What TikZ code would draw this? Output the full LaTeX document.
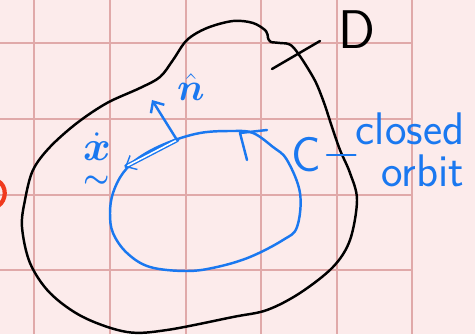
\documentclass[tikz,border=0pt]{standalone}
\usepackage{fix-cm}
\usepackage{amsmath}
\usetikzlibrary{arrows.meta}
\definecolor{paper}{HTML}{FCEBEB}
\definecolor{gridred}{HTML}{E0A9A9}
\definecolor{penblue}{HTML}{1A78F0}
\definecolor{penred}{HTML}{F03A1E}
\tikzset{
  gridline/.style={gridred, line width=1pt},
  pen/.style={black, line width=1.4pt, line cap=round, line join=round},
  bluepen/.style={penblue, line width=1.4pt, line cap=round, line join=round},
  barb/.style={-{Straight Barb[length=5pt,width=9pt]}},
}
\begin{document}
\begin{tikzpicture}[x=0.02cm, y=-0.02cm]
  \useasboundingbox (0,0) rectangle (475,334);
  % grid paper
  \fill[paper] (0,0) rectangle (475,334);
  \foreach \gx in {34,110,186,261,337}
    \draw[gridline] (\gx,0) -- (\gx,334);
  \draw[gridline, line width=1.4pt] (412,0) -- (412,334);
  \foreach \gy in {43,119,195,270}
    \draw[gridline] (0,\gy) -- (412,\gy);
  % left-over red stroke at the edge
  \draw[penred, line width=2.4pt, line cap=round] (-2,181) .. controls (7,186) and (7,200) .. (-2,206);
  % region D
  \draw[pen] plot[smooth cycle, tension=0.55] coordinates {
    (271,42) (280,43) (293,47) (313,77) (323,100) (332,127) (340,150)
    (350,173) (357,200) (350,240) (333,267) (300,293) (267,310) (233,317)
    (167,330) (127,332) (83,317) (50,293) (30,263) (22,227) (25,200)
    (33,170) (50,147) (77,123) (107,103) (140,88) (160,77) (173,60)
    (187,40) (207,28) (233,21) (253,23) (266,31) (268,38)};
  \coordinate (tickA) at (272,69);
  \coordinate (tickB) at (320,41);
  \draw[pen] (tickA) -- (tickB);
  \node[font=\fontsize{31}{33}\selectfont\sffamily] (dlabel) at (357,30) {D};
  % closed orbit C
  \draw[bluepen] plot[smooth cycle, tension=0.6] coordinates {
    (233,131) (253,133) (273,147) (287,160) (300,193) (297,227) (283,240)
    (250,257) (217,267) (187,271) (150,267) (127,253) (113,233) (110,213)
    (113,193) (123,173) (140,157) (167,143) (200,133)};
  \coordinate (flow) at (240,133);
  \draw[bluepen] (267,130) -- (flow) -- (247,160);
  % tangent and normal at a point of C
  \coordinate (xpt) at (177,140);
  \coordinate (xtip) at (125,167);
  \coordinate (ntip) at (152,100);
  \draw[bluepen, barb, double, double distance=0.9pt, line width=0.8pt] (xpt) -- (xtip);
  \draw[bluepen, barb] (xpt) -- (ntip);
  \node[penblue, font=\fontsize{24}{26}\selectfont] (xdot) at (97,162) {$\underset{\boldsymbol{\sim}}{\dot{\boldsymbol{x}}}$};
  \node[penblue, font=\fontsize{22}{24}\selectfont] (nhat) at (191,87) {$\hat{\boldsymbol{n}}$};
  % label of the orbit
  \node[penblue, font=\fontsize{28}{30}\selectfont\sffamily] (cname) at (306,155) {C};
  \node[penblue, font=\fontsize{26}{28}\selectfont\sffamily, align=right, inner sep=0pt] (cdesc) at (410,150) {closed\\[-4pt]orbit};
  \draw[bluepen] (cname.east) -- (cname.east -| cdesc.west);
\end{tikzpicture}
\end{document}
